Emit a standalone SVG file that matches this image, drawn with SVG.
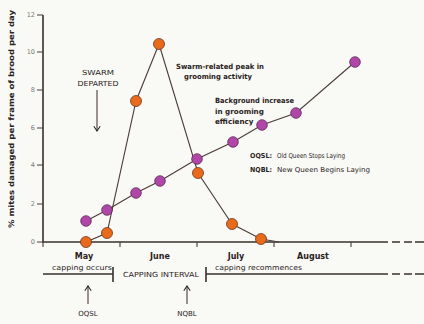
<svg xmlns="http://www.w3.org/2000/svg" width="424" height="324" viewBox="0 0 424 324">
<defs>
<style>
.ax{stroke:#3a302c;stroke-width:1.6;fill:none}
.ln{stroke:#4a3c38;stroke-width:1.1;fill:none}
.t{font-family:"DejaVu Sans",Verdana,sans-serif;fill:#2a2220}
.tk{font-family:"DejaVu Sans",sans-serif;font-size:6.5px;fill:#777;text-anchor:end}
.or{fill:#ea6a1c;stroke:#6a3a20;stroke-width:0.8}
.pu{fill:#b047a8;stroke:#5a2a55;stroke-width:0.8}
</style>
<marker id="ah" viewBox="0 0 10 10" refX="9" refY="5" markerWidth="8" markerHeight="8" orient="auto" markerUnits="userSpaceOnUse">
<path d="M3,1 L9,5 L3,9" fill="none" stroke="#2a2220" stroke-width="1.3"/>
</marker>
</defs>
<rect width="424" height="324" fill="#f9f9f6"/>
<g id="axes">
<path class="ax" d="M43,15 V242 H388"/>
<path class="ax" d="M392,242 H400 M404,242 H412 M415,242 H424" stroke-width="1.4"/>
<path class="ln" d="M37,15 H43 M37,52 H43 M37,90 H43 M37,128 H43 M37,165 H43 M37,204 H43 M37,242 H43"/>
<path class="ln" d="M43,242 V247 M120,242 V247 M197,242 V247 M274,242 V247 M351,242 V247"/>
<g class="tk">
<text x="35" y="17">12</text><text x="35" y="54">10</text><text x="35" y="92">8</text><text x="35" y="130">6</text><text x="35" y="167">4</text><text x="35" y="206">2</text><text x="35" y="244">0</text>
</g>
<text class="t" transform="translate(14,119) rotate(-90)" text-anchor="middle" font-size="7.6" font-weight="bold" textLength="218" lengthAdjust="spacingAndGlyphs">% mites damaged per frame of brood per day</text>
<g class="t" font-size="8" font-weight="bold" text-anchor="middle">
<text x="84" y="259">May</text><text x="160" y="259">June</text><text x="236" y="259">July</text><text x="313" y="259">August</text>
</g>
</g>
<g id="connectors">
<polyline class="ln" points="86,242 107,233 136,101 159,44 198,173 232,224 261,239 279,242"/>
<polyline class="ln" points="86,221 107,210 136,193 160,181 197,159 233,142 262,125 296,113 355,62"/>
<path class="ln" d="M97,90 V131" marker-end="url(#ah)"/>
</g>
<g id="orange-series">
<circle class="or" cx="86" cy="242" r="5.5"/><circle class="or" cx="107" cy="233" r="5.5"/><circle class="or" cx="136" cy="101" r="5.5"/><circle class="or" cx="159" cy="44" r="5.5"/><circle class="or" cx="198" cy="173" r="5.5"/><circle class="or" cx="232" cy="224" r="5.5"/><circle class="or" cx="261" cy="239" r="5.5"/>
</g>
<g id="purple-series">
<circle class="pu" cx="86" cy="221" r="5.3"/><circle class="pu" cx="107" cy="210" r="5.3"/><circle class="pu" cx="136" cy="193" r="5.3"/><circle class="pu" cx="160" cy="181" r="5.3"/><circle class="pu" cx="197" cy="159" r="5.3"/><circle class="pu" cx="233" cy="142" r="5.3"/><circle class="pu" cx="262" cy="125" r="5.3"/><circle class="pu" cx="296" cy="113" r="5.3"/><circle class="pu" cx="355" cy="62" r="5.3"/>
</g>
<g id="swarm-label" class="t" font-size="7" text-anchor="middle">
<text x="98" y="75" textLength="32" lengthAdjust="spacingAndGlyphs">SWARM</text>
<text x="98" y="86" textLength="41" lengthAdjust="spacingAndGlyphs">DEPARTED</text>
</g>
<g id="peak-label" class="t" font-size="7.2" font-weight="bold" text-anchor="middle">
<text x="220" y="69" textLength="88" lengthAdjust="spacingAndGlyphs">Swarm-related peak in</text>
<text x="218" y="79" textLength="68" lengthAdjust="spacingAndGlyphs">grooming activity</text>
</g>
<g id="background-label" class="t" font-size="7.2" font-weight="bold">
<text x="215" y="103" textLength="79" lengthAdjust="spacingAndGlyphs">Background increase</text>
<text x="215" y="114">in grooming</text>
<text x="215" y="124">efficiency</text>
</g>
<g id="legend" class="t" font-size="6.8">
<text x="250" y="158" font-weight="bold" textLength="22" lengthAdjust="spacingAndGlyphs">OQSL:</text>
<text x="277" y="158" textLength="68" lengthAdjust="spacingAndGlyphs">Old Queen Stops Laying</text>
<text x="250" y="172" font-weight="bold" textLength="22" lengthAdjust="spacingAndGlyphs">NQBL:</text>
<text x="277" y="172" textLength="93" lengthAdjust="spacingAndGlyphs">New Queen Begins Laying</text>
</g>
<g id="capping-bar">
<path class="ax" d="M43,274 H113 M113,267 V282 M206,267 V282 M206,274 H388"/>
<path class="ax" d="M392,274 H400 M404,274 H412 M415,274 H424" stroke-width="1.4"/>
<text class="t" x="52" y="270" font-size="7" textLength="60" lengthAdjust="spacingAndGlyphs">capping occurs</text>
<text class="t" x="123" y="277" font-size="7" textLength="76" lengthAdjust="spacingAndGlyphs">CAPPING INTERVAL</text>
<text class="t" x="215" y="270" font-size="7" textLength="87" lengthAdjust="spacingAndGlyphs">capping recommences</text>
</g>
<g id="oqsl-marker">
<path class="ln" d="M88,304 V286" marker-end="url(#ah)"/>
<text class="t" x="88" y="316" font-size="7" text-anchor="middle">OQSL</text>
</g>
<g id="nqbl-marker">
<path class="ln" d="M187,304 V286" marker-end="url(#ah)"/>
<text class="t" x="187" y="316" font-size="7" text-anchor="middle">NQBL</text>
</g>
</svg>
